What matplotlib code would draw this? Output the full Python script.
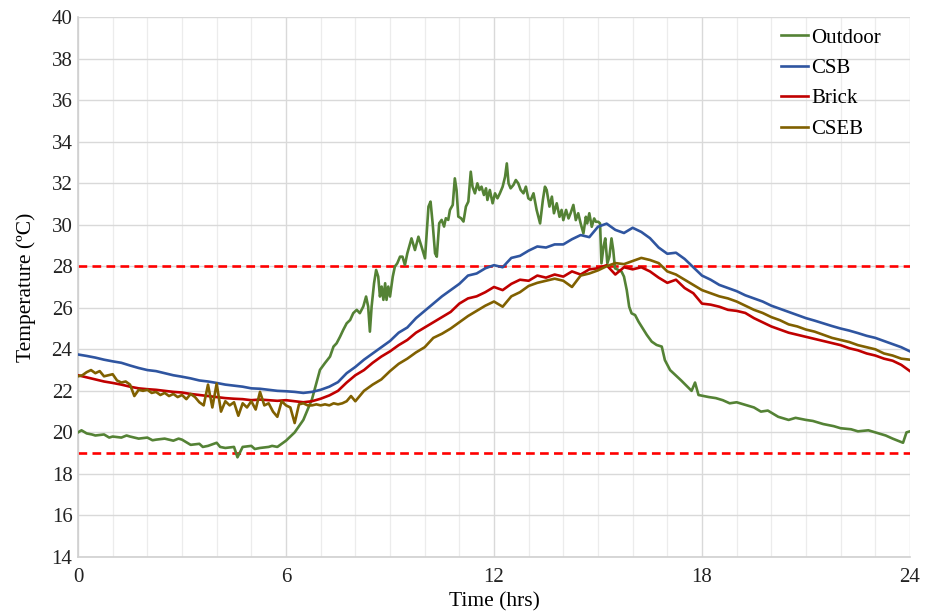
import numpy as np
import matplotlib
matplotlib.use("Agg")
import matplotlib.pyplot as plt
from matplotlib.ticker import MultipleLocator

# ---------------- data ----------------
grid_t = np.arange(0, 24.001, 0.25)

csb = [23.75, 23.68, 23.6, 23.5, 23.42, 23.35, 23.22, 23.1, 23.0, 22.95, 22.85, 22.75,
       22.68, 22.6, 22.5, 22.45, 22.38, 22.3, 22.25, 22.2, 22.12, 22.1, 22.05, 22.0,
       21.98, 21.95, 21.9, 21.95, 22.05, 22.2, 22.42, 22.85, 23.15, 23.5, 23.8, 24.1,
       24.4, 24.8, 25.05, 25.5, 25.85, 26.2, 26.55, 26.85, 27.15, 27.55, 27.65, 27.9,
       28.05, 27.95, 28.4, 28.5, 28.75, 28.95, 28.9, 29.05, 29.05, 29.3, 29.5, 29.4,
       29.9, 30.05, 29.75, 29.6, 29.85, 29.65, 29.35, 28.9, 28.6, 28.65, 28.35, 27.95,
       27.55, 27.35, 27.1, 26.95, 26.8, 26.6, 26.45, 26.3, 26.1, 25.95, 25.8, 25.65,
       25.5, 25.38, 25.25, 25.12, 25.0, 24.9, 24.78, 24.65, 24.55, 24.4, 24.25, 24.1, 23.9]

brick = [22.75, 22.65, 22.55, 22.45, 22.38, 22.3, 22.2, 22.12, 22.08, 22.05, 22.0, 21.95,
         21.92, 21.85, 21.8, 21.75, 21.7, 21.65, 21.62, 21.6, 21.55, 21.58, 21.55, 21.52,
         21.55, 21.5, 21.45, 21.5, 21.62, 21.78, 22.0, 22.4, 22.75, 23.0, 23.35, 23.65,
         23.9, 24.2, 24.45, 24.8, 25.05, 25.3, 25.55, 25.8, 26.2, 26.45, 26.55, 26.75,
         27.0, 26.85, 27.15, 27.35, 27.3, 27.55, 27.45, 27.6, 27.5, 27.75, 27.6, 27.85,
         27.9, 28.05, 27.6, 27.95, 27.85, 27.95, 27.75, 27.45, 27.2, 27.35, 26.95, 26.7,
         26.2, 26.15, 26.05, 25.9, 25.85, 25.75, 25.5, 25.3, 25.1, 24.95, 24.8, 24.7,
         24.6, 24.5, 24.4, 24.3, 24.2, 24.05, 23.95, 23.8, 23.7, 23.55, 23.45, 23.25, 22.95]

cseb_t = np.concatenate([np.arange(0, 8.001, 0.125), np.arange(8.25, 24.001, 0.25)])
cseb = [22.7, 22.75, 22.9, 23.0, 22.85, 22.95, 22.7, 22.75, 22.8, 22.5, 22.4, 22.45,
        22.3, 21.75, 22.05, 22.0, 22.05, 21.9, 21.95, 21.8, 21.9, 21.75, 21.85, 21.7,
        21.8, 21.6, 21.85, 21.7, 21.45, 21.3, 22.3, 21.2, 22.35, 21.0, 21.5, 21.3,
        21.45, 20.8, 21.4, 21.2, 21.5, 21.1, 21.95, 21.3, 21.4, 21.0, 20.75, 21.5,
        21.3, 21.2, 20.45, 21.35, 21.4, 21.3, 21.3, 21.35, 21.3, 21.35, 21.3, 21.4,
        21.35, 21.4, 21.5, 21.75, 21.5,
        22.0, 22.3, 22.55, 22.95, 23.3, 23.55, 23.85, 24.1, 24.55, 24.75, 25.0, 25.3,
        25.6, 25.85, 26.1, 26.3, 26.05, 26.55, 26.75, 27.05, 27.2, 27.3, 27.4, 27.3,
        27.0, 27.55, 27.65, 27.8, 28.0, 28.15, 28.1, 28.25, 28.4, 28.3, 28.15, 27.75,
        27.6, 27.35, 27.1, 26.85, 26.7, 26.55, 26.45, 26.3, 26.1, 25.9, 25.75, 25.55,
        25.4, 25.2, 25.1, 24.95, 24.85, 24.7, 24.55, 24.45, 24.35, 24.2, 24.1, 24.0,
        23.8, 23.7, 23.55, 23.5]

outdoor_t = [0.0, 0.1, 0.25, 0.4, 0.5, 0.75, 0.9, 1.0, 1.25, 1.4, 1.5, 1.75, 2.0, 2.15,
             2.25, 2.5, 2.75, 2.9, 3.0, 3.25, 3.5, 3.6, 3.75, 4.0, 4.1, 4.25, 4.5, 4.6,
             4.75, 5.0, 5.1, 5.25, 5.5, 5.6, 5.75, 6.0, 6.25, 6.5, 6.75,
             6.98, 7.12, 7.27, 7.37, 7.46, 7.56, 7.65, 7.75, 7.85, 7.94, 8.04, 8.13, 8.23,
             8.31, 8.37, 8.42, 8.47, 8.54, 8.6, 8.66, 8.71, 8.76, 8.81, 8.86, 8.9, 8.95,
             9.0, 9.08, 9.14, 9.21, 9.29, 9.36, 9.43, 9.5,
             9.62, 9.72, 9.82, 9.91, 10.01, 10.11, 10.17, 10.23, 10.3, 10.35, 10.42, 10.49,
             10.56, 10.61, 10.68, 10.73, 10.81, 10.87, 10.92, 10.97, 11.05, 11.12, 11.19,
             11.26, 11.33, 11.38, 11.45, 11.52, 11.58, 11.64, 11.71, 11.77, 11.81, 11.88,
             11.96, 12.03, 12.1, 12.17, 12.25, 12.32, 12.37, 12.42, 12.48, 12.56, 12.63,
             12.7, 12.77, 12.85, 12.92, 12.99,
             13.06, 13.14, 13.23, 13.33, 13.41, 13.47, 13.52, 13.6, 13.67, 13.73, 13.81,
             13.89, 13.95, 14.0, 14.08, 14.15, 14.21, 14.29, 14.36, 14.43, 14.5, 14.58,
             14.65, 14.69, 14.75, 14.82, 14.89, 14.94, 15.01, 15.06, 15.1, 15.16, 15.21,
             15.27, 15.33, 15.39, 15.44, 15.49, 15.59, 15.68, 15.75, 15.83, 15.9, 15.97,
             16.07, 16.17, 16.26, 16.41, 16.55, 16.69, 16.84, 16.93, 17.08,
             17.4, 17.7, 17.8, 17.9, 18.2, 18.4, 18.6, 18.8, 19.0, 19.3, 19.5, 19.7, 19.9,
             20.2, 20.5, 20.7, 21.0, 21.2, 21.5, 21.8, 22.0, 22.3, 22.5, 22.8, 23.0, 23.3,
             23.5, 23.8, 23.9, 24.0]
outdoor = [20.0, 20.1, 19.95, 19.9, 19.85, 19.9, 19.75, 19.8, 19.75, 19.85, 19.8, 19.7,
           19.75, 19.62, 19.65, 19.7, 19.6, 19.7, 19.65, 19.4, 19.45, 19.3, 19.35, 19.5,
           19.3, 19.25, 19.3, 18.8, 19.3, 19.35, 19.2, 19.25, 19.3, 19.35, 19.3, 19.6,
           20.0, 20.6, 21.6,
           23.01, 23.33, 23.65, 24.13, 24.29, 24.61, 24.93, 25.25, 25.41, 25.74, 25.9,
           25.74, 26.06, 26.54, 26.06, 24.85, 26.06, 27.18, 27.82, 27.5, 26.54, 27.02,
           26.38, 27.18, 26.38, 27.02, 26.54, 27.5, 27.98, 28.14, 28.46, 28.46, 28.06,
           28.62,
           29.34, 28.78, 29.42, 28.94, 28.38, 30.87, 31.11, 30.07, 28.62, 28.46, 30.07,
           30.23, 29.91, 30.31, 30.23, 30.71, 30.95, 32.23, 31.67, 30.39, 30.31, 30.15,
           30.87, 31.11, 32.55, 31.83, 31.51, 31.99, 31.67, 31.83, 31.43, 31.75, 31.19,
           31.67, 31.03, 31.51, 31.27, 31.51, 31.83, 32.31, 32.95, 31.99, 31.75, 31.91,
           32.15, 31.99, 31.67, 31.51, 31.83, 31.27,
           31.19, 31.51, 30.71, 30.06, 31.19, 31.83, 31.67, 30.87, 31.35, 30.55, 31.03,
           30.38, 30.71, 30.22, 30.71, 30.3, 30.55, 30.95, 30.22, 30.55, 30.06, 29.58,
           30.38, 30.06, 30.55, 29.9, 30.3, 30.14, 30.14, 30.06, 28.14, 28.94, 29.34,
           28.14, 28.46, 29.34, 28.78, 27.9, 27.82, 27.74, 27.5, 26.85, 26.05, 25.73,
           25.65, 25.33, 25.09, 24.69, 24.37, 24.21, 24.13, 23.48, 23.0,
           22.5, 22.0, 22.4, 21.8, 21.7, 21.65, 21.55, 21.4, 21.45, 21.3, 21.2, 21.0, 21.05,
           20.75, 20.6, 20.7, 20.6, 20.55, 20.4, 20.3, 20.2, 20.15, 20.05, 20.1, 20.0, 19.85,
           19.7, 19.5, 20.0, 20.05]

limit_upper = 28
limit_lower = 19
x_ticks = [0, 6, 12, 18, 24]
y_ticks = list(range(14, 41, 2))

# ---------------- figure ----------------
plt.rcParams['font.family'] = ['Liberation Serif', 'DejaVu Serif']
fig = plt.figure(figsize=(9.31, 6.15), dpi=100)
ax = fig.add_axes([0.0838, 0.0943, 0.8936, 0.8781])

lw = 1.9
ax.plot(outdoor_t, outdoor, color='#548235', lw=lw, label='Outdoor', zorder=3)
ax.plot(grid_t, csb, color='#2F55A0', lw=lw, label='CSB', zorder=3)
ax.plot(grid_t, brick, color='#C00000', lw=lw, label='Brick', zorder=3)
ax.plot(cseb_t, cseb, color='#806000', lw=lw, label='CSEB', zorder=3)

ax.axhline(limit_upper, color='#FF0000', lw=1.9, ls=(0, (3.3, 2.0)), zorder=2)
ax.axhline(limit_lower, color='#FF0000', lw=1.9, ls=(0, (3.3, 2.0)), zorder=2)

ax.set_xlim(0, 24)
ax.set_ylim(14, 40)
ax.set_xticks(x_ticks)
ax.set_yticks(y_ticks)
ax.xaxis.set_minor_locator(MultipleLocator(1))
ax.grid(which='major', color='#d9d9d9', lw=1.0, zorder=0)
ax.grid(which='minor', axis='x', color='#ececec', lw=0.9, zorder=0)
ax.set_axisbelow(True)
for s in ['top', 'right']:
    ax.spines[s].set_visible(False)
for s in ['left', 'bottom']:
    ax.spines[s].set_color('#d0d0d0')
    ax.spines[s].set_linewidth(1.2)
ax.tick_params(which='both', length=0, labelsize=15, colors='#222222')
ax.tick_params(axis='y', pad=4)
ax.tick_params(axis='x', pad=8)

ax.set_xlabel('Time (hrs)', fontsize=15.5, labelpad=4)
ax.set_ylabel('Temperature (ºC)', fontsize=15.5, labelpad=11)

leg = ax.legend(loc='upper right', frameon=False, fontsize=15, handlelength=1.3,
                handletextpad=0.15, labelspacing=0.52, borderaxespad=0.0,
                bbox_to_anchor=(0.975, 0.995))

fig.savefig('out.png', dpi=100, facecolor='white')
